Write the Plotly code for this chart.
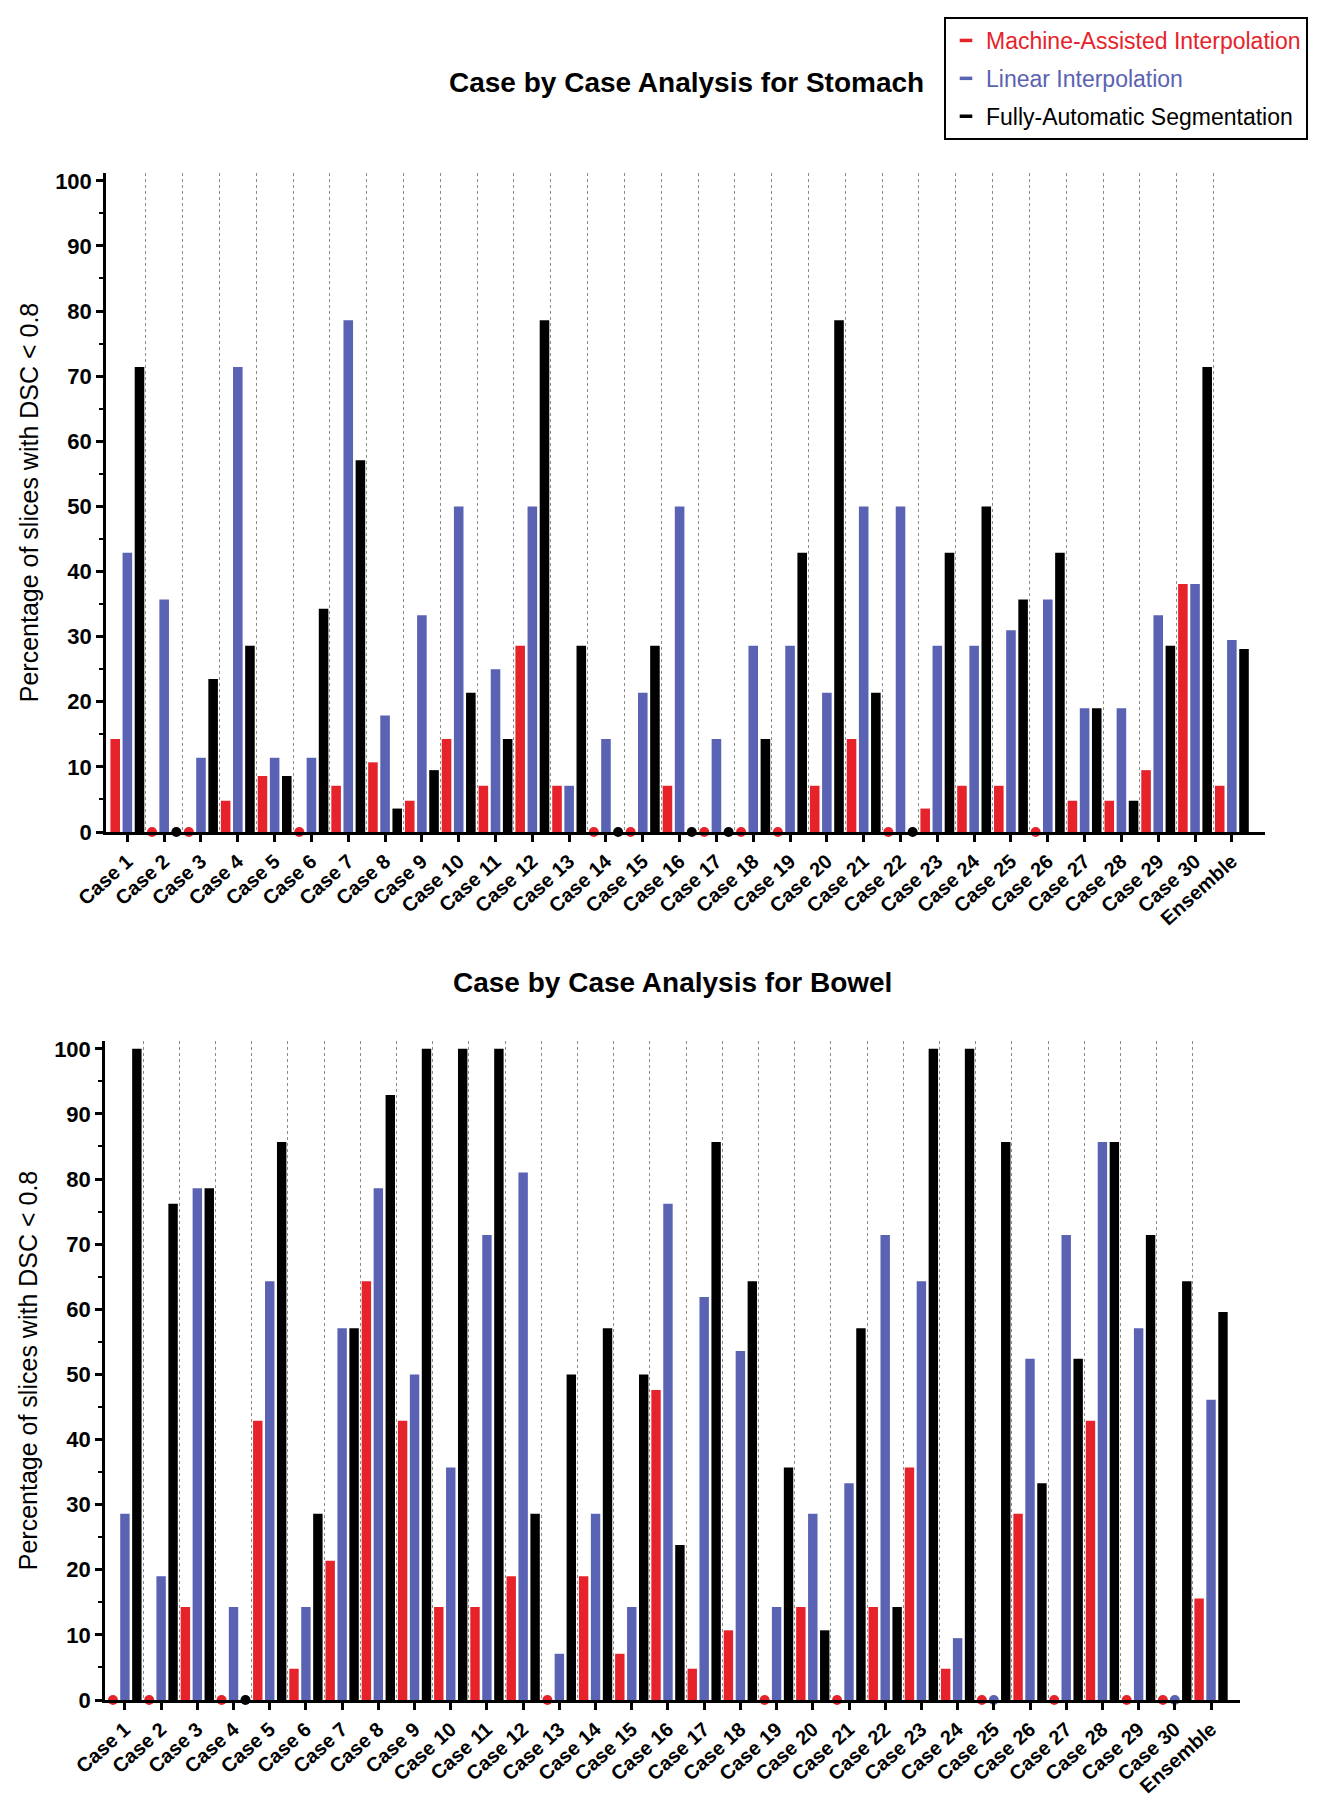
import plotly.graph_objects as go

categories = ["Case 1", "Case 2", "Case 3", "Case 4", "Case 5", "Case 6", "Case 7", "Case 8",
              "Case 9", "Case 10", "Case 11", "Case 12", "Case 13", "Case 14", "Case 15",
              "Case 16", "Case 17", "Case 18", "Case 19", "Case 20", "Case 21", "Case 22",
              "Case 23", "Case 24", "Case 25", "Case 26", "Case 27", "Case 28", "Case 29",
              "Case 30", "Ensemble"]

series_names = ["Machine-Assisted Interpolation", "Linear Interpolation", "Fully-Automatic Segmentation"]

stomach_mai = [14.3, 0, 0, 4.8, 8.6, 0, 7.1, 10.7, 4.8, 14.3, 7.1, 28.6, 7.1, 0, 0, 7.1,
               0, 0, 0, 7.1, 14.3, 0, 3.6, 7.1, 7.1, 0, 4.8, 4.8, 9.5, 38.1, 7.1]
stomach_li = [42.9, 35.7, 11.4, 71.4, 11.4, 11.4, 78.6, 17.9, 33.3, 50.0, 25.0, 50.0, 7.1, 14.3,
              21.4, 50.0, 14.3, 28.6, 28.6, 21.4, 50.0, 50.0, 28.6, 28.6, 31.0, 35.7, 19.0, 19.0,
              33.3, 38.1, 29.5]
stomach_fas = [71.4, 0, 23.5, 28.6, 8.6, 34.3, 57.1, 3.6, 9.5, 21.4, 14.3, 78.6, 28.6, 0, 28.6,
               0, 0, 14.3, 42.9, 78.6, 21.4, 0, 42.9, 50.0, 35.7, 42.9, 19.0, 4.8, 28.6, 71.4, 28.1]

bowel_mai = [0, 0, 14.3, 0, 42.9, 4.8, 21.4, 64.3, 42.9, 14.3, 14.3, 19.0, 0, 19.0, 7.1, 47.6,
             4.8, 10.7, 0, 14.3, 0, 14.3, 35.7, 4.8, 0, 28.6, 0, 42.9, 0, 0, 15.6]
bowel_li = [28.6, 19.0, 78.6, 14.3, 64.3, 14.3, 57.1, 78.6, 50.0, 35.7, 71.4, 81.0, 7.1, 28.6,
            14.3, 76.2, 61.9, 53.6, 14.3, 28.6, 33.3, 71.4, 64.3, 9.5, 0, 52.4, 71.4, 85.7, 57.1,
            0, 46.1]
bowel_fas = [100, 76.2, 78.6, 0, 85.7, 28.6, 57.1, 92.9, 100, 100, 100, 28.6, 50.0, 57.1, 50.0,
             23.8, 85.7, 64.3, 35.7, 10.7, 57.1, 14.3, 100, 100, 85.7, 33.3, 52.4, 85.7, 71.4,
             64.3, 59.6]

y_ticks = [0, 10, 20, 30, 40, 50, 60, 70, 80, 90, 100]

# ---- styling ----
W, H = 1319, 1800
FONT = "Liberation Sans, Arial, Helvetica, sans-serif"
colors = ["#e6232b", "#5a62b3", "#000000"]
bar_w = 0.26
centers = [-0.33, 0.0, 0.33]

x_idx = list(range(len(categories)))

fig = go.Figure()


def add_panel(values_list, xa, ya):
    for vals, col, c in zip(values_list, colors, centers):
        fig.add_trace(go.Bar(
            x=x_idx, y=vals, offset=c - bar_w / 2, width=bar_w,
            marker=dict(color=col, line=dict(width=0)),
            xaxis=xa, yaxis=ya, showlegend=False, hoverinfo="y"))
        zx = [i + c for i, v in zip(x_idx, vals) if v == 0]
        zy = [v for v in vals if v == 0]
        fig.add_trace(go.Scatter(
            x=zx, y=zy, mode="markers", cliponaxis=False,
            marker=dict(color=col, size=10, symbol="circle", line=dict(width=0)),
            xaxis=xa, yaxis=ya, showlegend=False, hoverinfo="skip"))


add_panel([stomach_mai, stomach_li, stomach_fas], "x", "y")
add_panel([bowel_mai, bowel_li, bowel_fas], "x2", "y2")

# legend entries (short dash symbols with coloured text)
for k, (nm, col) in enumerate(zip(series_names, colors)):
    fig.add_trace(go.Scatter(
        x=[None], y=[None], mode="markers", legendgroup=f"g{k}",
        marker=dict(symbol="line-ew-open", size=9, color=col, line=dict(width=3.5, color=col)),
        name=f'<span style="color:{col}">{nm}</span>', xaxis="x", yaxis="y"))

separators = [i + 0.5 for i in x_idx[:-1]]


def xaxis_style(domain, rng, anchor):
    return dict(
        domain=domain, range=rng, anchor=anchor, automargin=False,
        tickmode="array", tickvals=x_idx, ticktext=categories, tickangle=-42,
        tickfont=dict(family=FONT, size=20, color="black", weight="bold"),
        ticks="outside", ticklen=7, tickwidth=2.5, tickcolor="black",
        showline=True, linecolor="black", linewidth=2.5,
        showgrid=False, zeroline=False,
        minor=dict(tickmode="array", tickvals=separators, showgrid=True,
                   griddash="dot", gridcolor="#8c8c8c", gridwidth=1.3, ticks=""),
    )


def yaxis_style(domain, anchor):
    return dict(
        domain=domain, range=[0, 101.2], anchor=anchor, automargin=False,
        tickmode="array", tickvals=y_ticks,
        tickfont=dict(family=FONT, size=22, color="black", weight="bold"),
        ticks="outside", ticklen=7, tickwidth=2.5, tickcolor="black",
        minor=dict(dtick=5, tick0=0, ticks="outside", ticklen=4, tickwidth=2, tickcolor="black",
                   showgrid=False),
        showline=True, linecolor="black", linewidth=2.5,
        showgrid=False, zeroline=False,
        title=dict(text="Percentage of slices with DSC < 0.8",
                   font=dict(family=FONT, size=25, color="black"), standoff=10),
    )


fig.update_layout(
    width=W, height=H,
    margin=dict(l=0, r=0, t=0, b=0),
    paper_bgcolor="white", plot_bgcolor="white",
    barmode="overlay",
    font=dict(family=FONT, color="black"),
    xaxis=xaxis_style([98 / W, 1257 / W], [-0.58, 30.9], "y"),
    yaxis=yaxis_style([1 - 824 / H, 1 - 165 / H], "x"),
    xaxis2=xaxis_style([97 / W, 1232 / W], [-0.55, 30.8], "y2"),
    yaxis2=yaxis_style([1 - 1692 / H, 1 - 1033 / H], "x2"),
    legend=dict(x=936 / W, y=1 - 9 / H, xanchor="left", yanchor="top",
                bordercolor="black", borderwidth=2, bgcolor="white",
                font=dict(family=FONT, size=23), itemwidth=30, tracegroupgap=5),
    annotations=[
        dict(text="<b>Case by Case Analysis for Stomach</b>", x=678 / W, y=1 - 75 / H,
             xref="paper", yref="paper", xanchor="center", yanchor="middle", showarrow=False,
             font=dict(family=FONT, size=28, color="black")),
        dict(text="<b>Case by Case Analysis for Bowel</b>", x=664 / W, y=1 - 975 / H,
             xref="paper", yref="paper", xanchor="center", yanchor="middle", showarrow=False,
             font=dict(family=FONT, size=28, color="black")),
    ],
)

fig.write_html("out.html")
